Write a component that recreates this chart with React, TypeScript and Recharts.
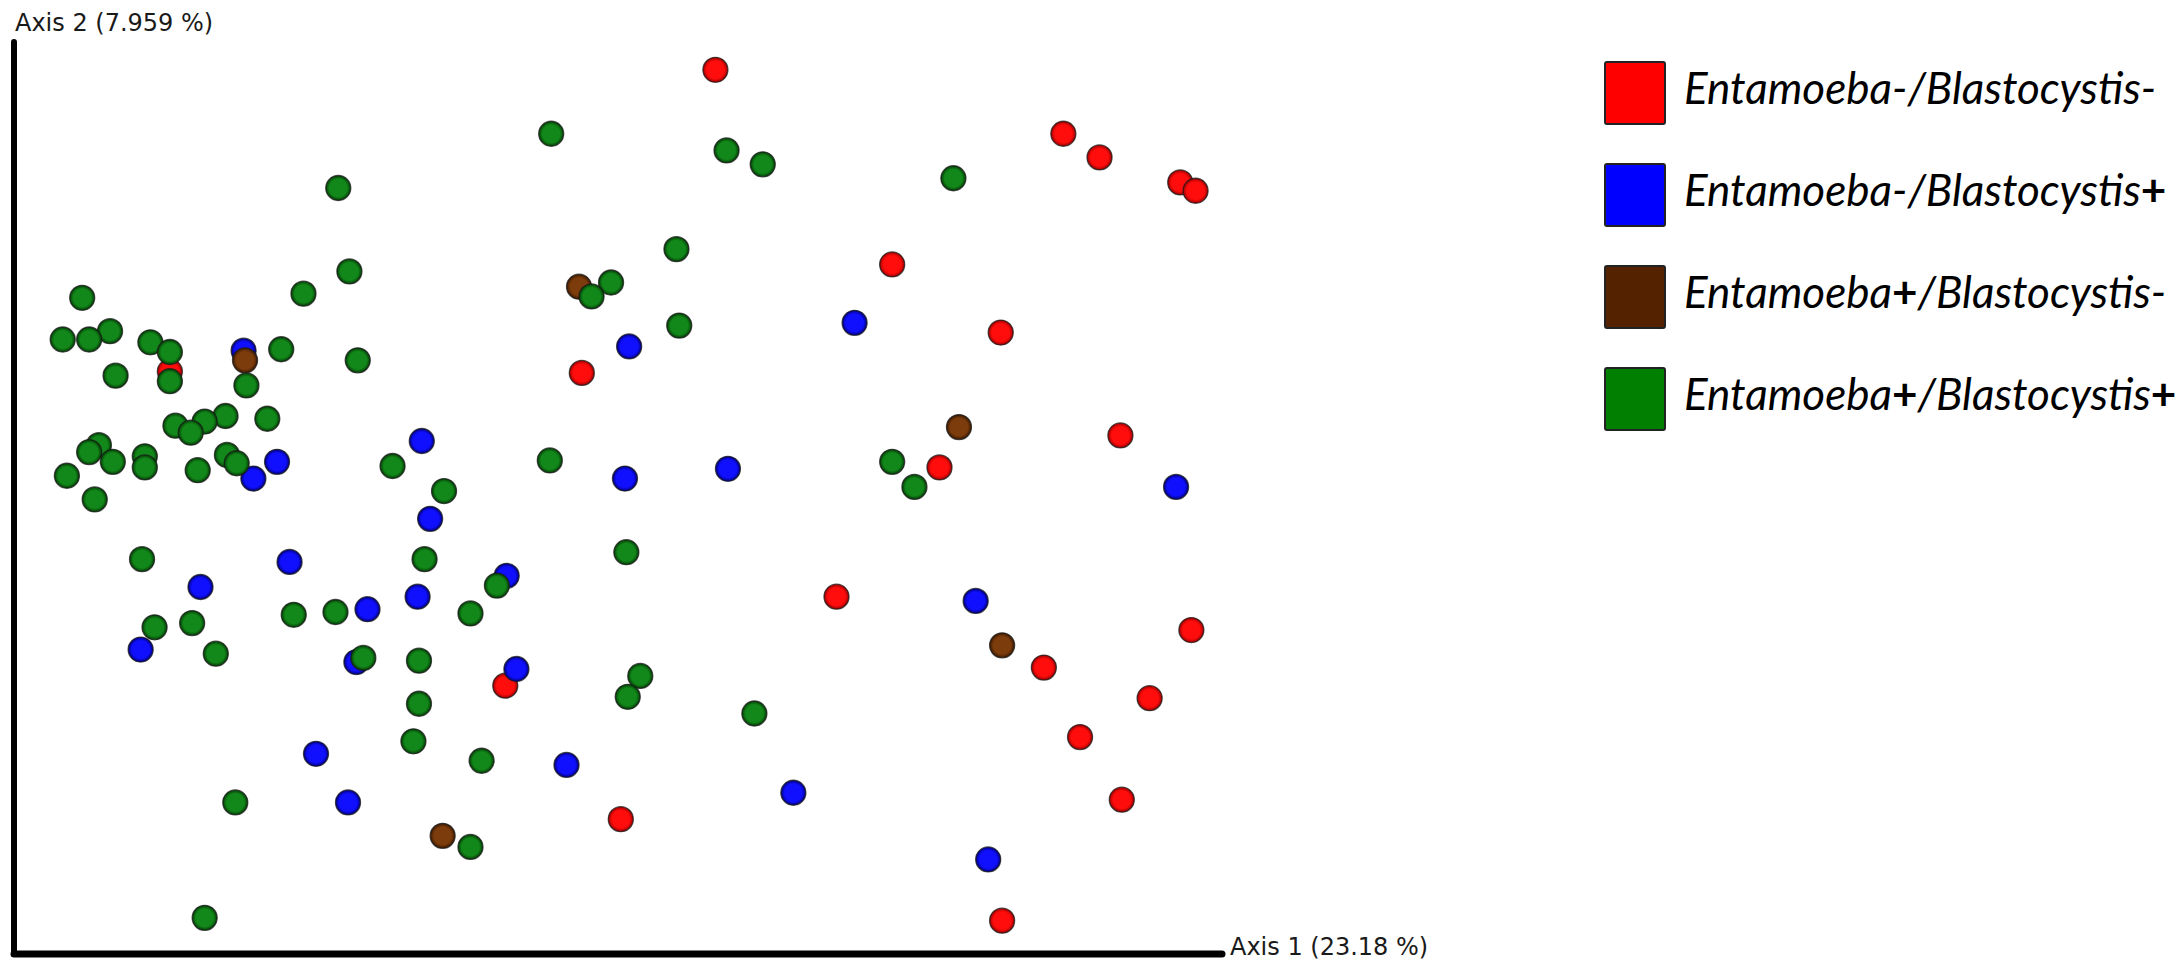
import { ScatterChart, Scatter, XAxis, YAxis, Legend } from 'recharts'

// PCoA scores: [Axis 1, Axis 2]
const entNegBlastNeg: [number, number][] = [
  [0.070, 0.308], [0.320, 0.262], [0.346, 0.245], [0.404, 0.227], [0.415, 0.221],
  [0.197, 0.168], [0.275, 0.119], [-0.026, 0.090], [-0.322, 0.091], [0.361, 0.045],
  [0.231, 0.022], [0.157, -0.071], [0.412, -0.095], [0.306, -0.122], [0.382, -0.144],
  [0.332, -0.172], [-0.081, -0.135], [0.362, -0.217], [0.002, -0.231], [0.276, -0.304],
]

const entNegBlastPos: [number, number][] = [
  [-0.269, 0.106], [0.170, 0.126], [0.008, 0.109], [-0.141, 0.041], [-0.245, 0.026],
  [-0.262, 0.014], [0.005, 0.014], [0.079, 0.021], [0.401, 0.008], [-0.135, -0.015],
  [-0.236, -0.046], [-0.300, -0.064], [-0.080, -0.056], [-0.180, -0.080], [-0.144, -0.071],
  [0.257, -0.074], [-0.343, -0.109], [-0.188, -0.118], [-0.073, -0.123], [-0.217, -0.184],
  [-0.194, -0.219], [-0.037, -0.192], [0.126, -0.212], [0.266, -0.260],
]

const entPosBlastNeg: [number, number][] = [
  [-0.028, 0.152], [-0.268, 0.099], [0.245, 0.051], [0.276, -0.106], [-0.126, -0.243],
]

const entPosBlastPos: [number, number][] = [
  [-0.048, 0.262], [0.078, 0.250], [0.104, 0.240], [0.241, 0.230], [-0.201, 0.223],
  [0.042, 0.179], [-0.193, 0.163], [-0.005, 0.155], [-0.226, 0.147], [-0.019, 0.145],
  [-0.385, 0.144], [0.044, 0.124], [-0.365, 0.120], [-0.399, 0.114], [-0.380, 0.114],
  [-0.336, 0.112], [-0.242, 0.107], [-0.322, 0.105], [-0.187, 0.099], [-0.361, 0.088],
  [-0.322, 0.084], [-0.267, 0.081], [-0.282, 0.059], [-0.252, 0.057], [-0.297, 0.055],
  [-0.318, 0.052], [-0.307, 0.047], [-0.373, 0.038], [-0.380, 0.033], [-0.281, 0.031],
  [-0.340, 0.030], [-0.363, 0.026], [-0.274, 0.025], [-0.162, 0.023], [-0.049, 0.027],
  [0.197, 0.026], [-0.340, 0.022], [-0.302, 0.020], [-0.396, 0.016], [0.213, 0.008],
  [-0.125, 0.005], [-0.376, -0.001], [0.006, -0.039], [-0.342, -0.044], [-0.139, -0.044],
  [-0.087, -0.063], [-0.203, -0.082], [-0.233, -0.084], [-0.106, -0.083], [-0.306, -0.090],
  [-0.333, -0.093], [-0.289, -0.112], [-0.183, -0.115], [-0.143, -0.117], [0.016, -0.128],
  [0.007, -0.143], [-0.143, -0.148], [0.098, -0.155], [-0.147, -0.175], [-0.098, -0.189],
  [-0.275, -0.219], [-0.106, -0.251], [-0.297, -0.302],
]

const axis1Label = 'Axis 1 (23.18 %)'
const axis2Label = 'Axis 2 (7.959 %)'

const groups = [
  { id: 'nn', ent: '-', blast: '-', fill: '#ff0d0d', rim: '#9a0000', swatch: '#ff0000', points: entNegBlastNeg },
  { id: 'np', ent: '-', blast: '+', fill: '#1010ff', rim: '#00007a', swatch: '#0000ff', points: entNegBlastPos },
  { id: 'pn', ent: '+', blast: '-', fill: '#7c3c0c', rim: '#3a1800', swatch: '#552200', points: entPosBlastNeg },
  { id: 'pp', ent: '+', blast: '+', fill: '#13881a', rim: '#023d05', swatch: '#007f00', points: entPosBlastPos },
]

function Sign({ s }: { s: string }) {
  if (s === '+') return <span style={{ fontWeight: 700, fontStyle: 'normal' }}>+</span>
  return <span>-</span>
}

function LegendBox() {
  return (
    <div style={{ fontFamily: 'Lato', fontStyle: 'italic', fontSize: 44, color: '#000' }}>
      {groups.map((g) => (
        <div key={g.id} style={{ display: 'flex', alignItems: 'center', height: 66, marginBottom: 36 }}>
          <div style={{
            width: 62, height: 64, background: g.swatch, border: '2px solid #222',
            borderRadius: 3, boxSizing: 'border-box', flexShrink: 0,
          }} />
          <span style={{ marginLeft: 18, lineHeight: 1, position: 'relative', top: -6, whiteSpace: 'nowrap' }}>
            Entamoeba<Sign s={g.ent} />/Blastocystis<Sign s={g.blast} />
          </span>
        </div>
      ))}
    </div>
  )
}

const sphere = (id: string) => (props: any) => (
  <circle cx={props.cx} cy={props.cy} r={12.5} fill={`url(#grad-${id})`} stroke="#1a1a1a" strokeWidth={1.3} strokeOpacity={0.75} />
)

export default function App() {
  return (
    <div style={{ position: 'absolute', left: 0, top: 0, background: '#fff' }}>
      <ScatterChart width={2182} height={968} margin={{ top: 42, right: 960, bottom: 13, left: 13 }}>
        <defs>
          {groups.map((g) => (
            <radialGradient key={g.id} id={`grad-${g.id}`} cx="50%" cy="50%" r="50%">
              <stop offset="0%" stopColor={g.fill} />
              <stop offset="70%" stopColor={g.fill} />
              <stop offset="100%" stopColor={g.rim} />
            </radialGradient>
          ))}
        </defs>
        <XAxis
          type="number" dataKey="x" domain={[-0.434, 0.434]} allowDataOverflow
          height={1} tick={false} tickLine={false}
          axisLine={{ stroke: '#000', strokeWidth: 7, strokeLinecap: 'round' }}
          label={({ viewBox }: any) => (
            <text x={viewBox.x + viewBox.width + 8} y={viewBox.y + 1} fontFamily="DejaVu Sans" fontSize={24} fill="#1a1a1a">
              {axis1Label}
            </text>
          )}
        />
        <YAxis
          type="number" dataKey="y" domain={[-0.328, 0.328]} allowDataOverflow
          width={1} tick={false} tickLine={false}
          axisLine={{ stroke: '#000', strokeWidth: 6, strokeLinecap: 'round' }}
          label={({ viewBox }: any) => (
            <text x={viewBox.x + 2} y={viewBox.y - 11} fontFamily="DejaVu Sans" fontSize={24} fill="#1a1a1a">
              {axis2Label}
            </text>
          )}
        />
        <Legend
          layout="vertical" align="center" verticalAlign="middle"
          wrapperStyle={{ left: 1604, top: 60, width: 578 }}
          content={() => <LegendBox />}
        />
        {groups.map((g) => (
          <Scatter
            key={g.id}
            name={g.id}
            data={g.points.map(([x, y]) => ({ x, y }))}
            fill={g.fill}
            shape={sphere(g.id)}
            isAnimationActive={false}
          />
        ))}
      </ScatterChart>
    </div>
  )
}
